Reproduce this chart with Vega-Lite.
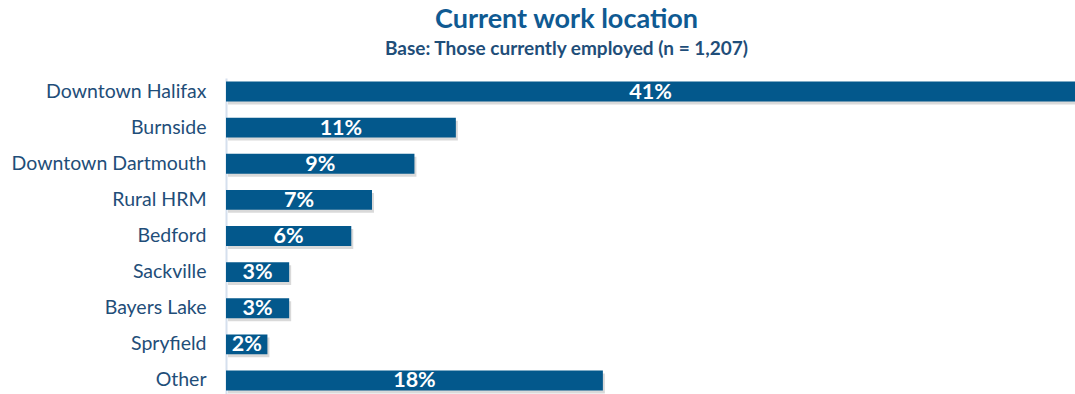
{
  "$schema": "https://vega.github.io/schema/vega-lite/v6.json",
  "width": 849,
  "height": 316,
  "autosize": {"type": "none"},
  "padding": {"left": 226, "top": 78, "right": 0, "bottom": 0},
  "background": "white",
  "title": {
    "text": "Current work location",
    "subtitle": "Base: Those currently employed (n = 1,207)",
    "anchor": "middle",
    "frame": "group",
    "dx": -84,
    "offset": 18,
    "font": "Lato",
    "fontSize": 27,
    "fontWeight": "bold",
    "color": "#0F5A92",
    "subtitleFont": "Lato",
    "subtitleFontSize": 19,
    "subtitleFontWeight": "bold",
    "subtitleColor": "#1F4E79",
    "subtitlePadding": 6
  },
  "data": {
    "values": [
      {"location": "Downtown Halifax", "value": 41.0, "label": "41%"},
      {"location": "Burnside", "value": 11.1, "label": "11%"},
      {"location": "Downtown Dartmouth", "value": 9.1, "label": "9%"},
      {"location": "Rural HRM", "value": 7.05, "label": "7%"},
      {"location": "Bedford", "value": 6.05, "label": "6%"},
      {"location": "Sackville", "value": 3.05, "label": "3%"},
      {"location": "Bayers Lake", "value": 3.05, "label": "3%"},
      {"location": "Spryfield", "value": 2.0, "label": "2%"},
      {"location": "Other", "value": 18.2, "label": "18%"}
    ]
  },
  "encoding": {
    "y": {
      "field": "location",
      "type": "nominal",
      "sort": null,
      "scale": {"paddingInner": 0.45, "paddingOuter": 0.1},
      "axis": {
        "title": null,
        "ticks": false,
        "domain": true,
        "domainColor": "#D5E0EE",
        "domainWidth": 2,
        "labelFont": "Lato",
        "labelFontSize": 19.5,
        "labelColor": "#1F4E79",
        "labelPadding": 20,
        "labelLimit": 400,
        "grid": false
      }
    }
  },
  "layer": [
    {
      "mark": {"type": "bar", "color": "#000000", "opacity": 0.15, "xOffset": 2, "yOffset": 3, "cornerRadius": 0},
      "encoding": {
        "x": {"field": "value", "type": "quantitative", "scale": {"domain": [0, 41]}, "axis": null}
      }
    },
    {
      "mark": {"type": "bar", "color": "#03588C"},
      "encoding": {
        "x": {"field": "value", "type": "quantitative", "scale": {"domain": [0, 41]}, "axis": null}
      }
    },
    {
      "transform": [{"calculate": "datum.value / 2", "as": "mid"}],
      "mark": {"type": "text", "color": "white", "font": "Lato", "fontSize": 21.5, "fontWeight": "bold", "align": "center", "baseline": "middle", "dy": 1},
      "encoding": {
        "x": {"field": "mid", "type": "quantitative", "scale": {"domain": [0, 41]}},
        "text": {"field": "label"}
      }
    }
  ],
  "config": {"view": {"stroke": null}}
}
